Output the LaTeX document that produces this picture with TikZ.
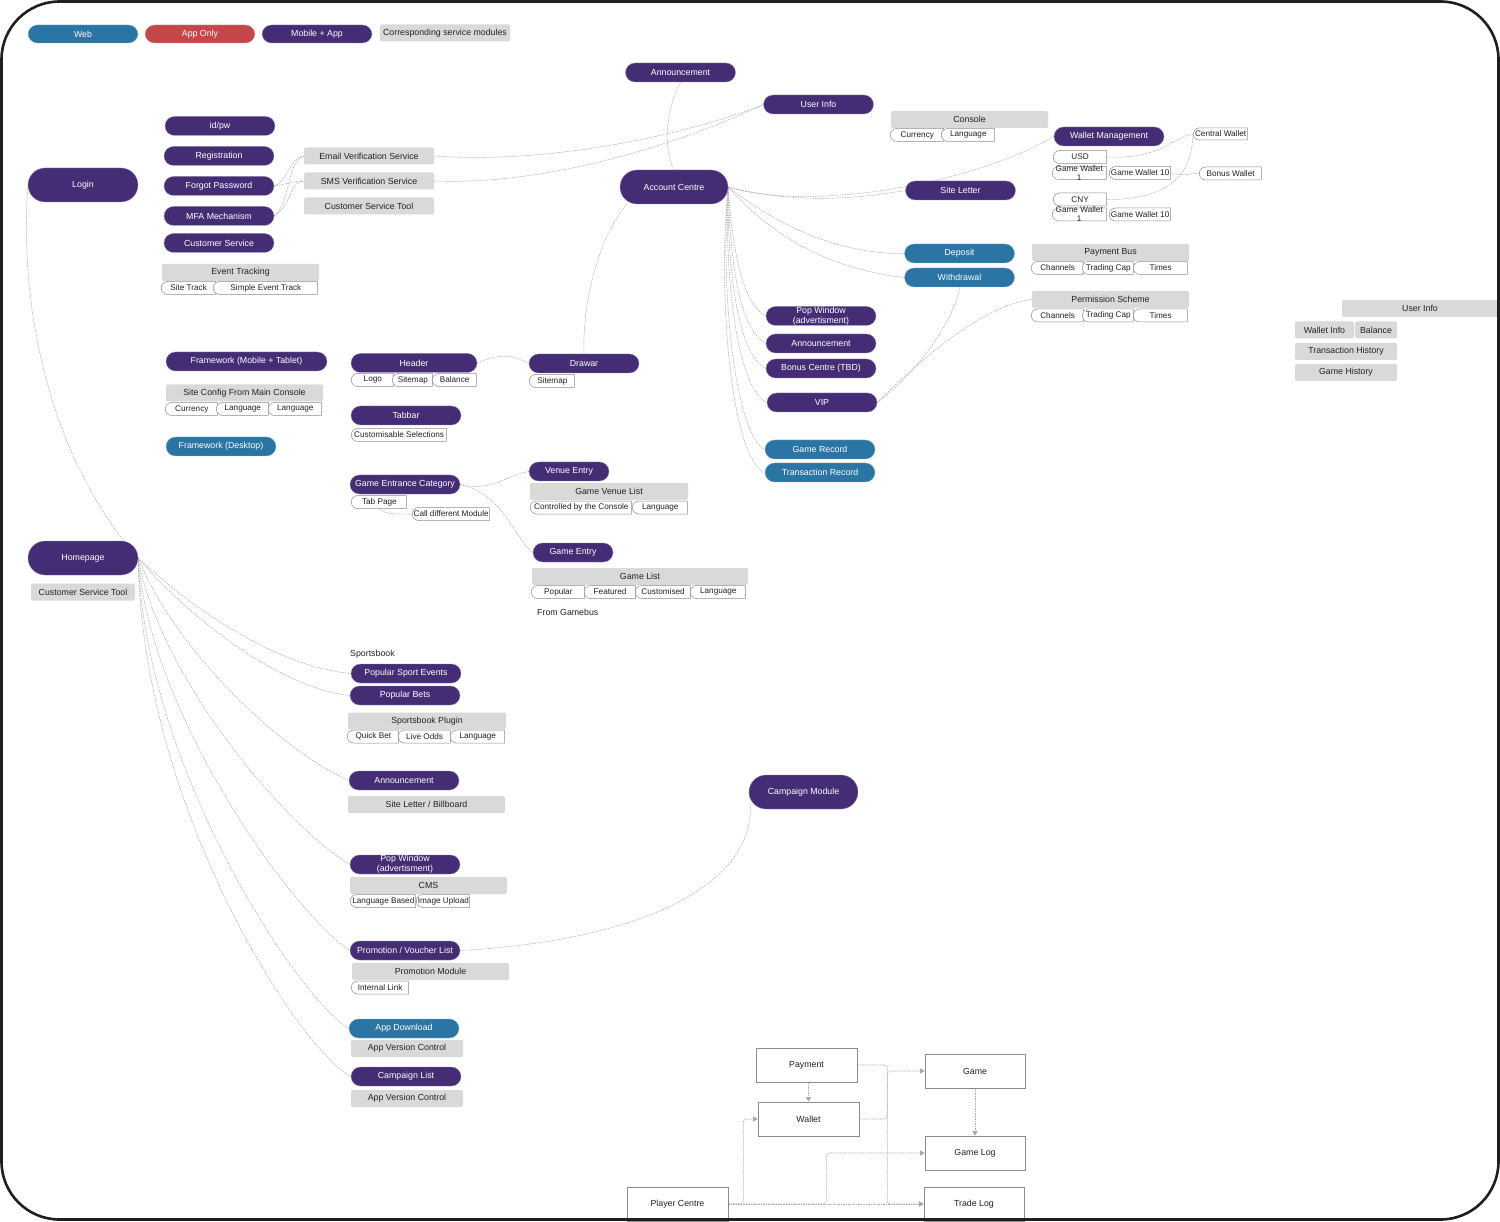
\documentclass[tikz,border=0pt]{standalone}
\usepackage{fontspec}
\setmainfont{Liberation Sans}
\usetikzlibrary{shapes.misc,arrows.meta,backgrounds}
\definecolor{pur}{HTML}{442D74}
\definecolor{blu}{HTML}{2A75A3}
\definecolor{redc}{HTML}{C4474B}
\definecolor{lgr}{HTML}{D9D9D9}
\definecolor{cgr}{HTML}{A8A8A8}
\definecolor{chipb}{HTML}{8C8C8C}
\definecolor{txt}{HTML}{222222}
\newcommand\pillfnt{\fontsize{8.8}{9.6}\selectfont}
\newcommand\boxfnt{\fontsize{8.8}{10}\selectfont}
\newcommand\chipfnt{\fontsize{8.2}{9}\selectfont}
\tikzset{
  pill/.style={rectangle, rounded corners=9.5pt, fill=pur, draw=pur!55!white, line width=0.3pt, text=white, minimum width=110pt, minimum height=19pt, inner sep=0pt, font=\pillfnt},
  bpill/.style={pill, fill=blu, draw=blu!55!white},
  rpill/.style={pill, fill=redc, draw=redc!55!white},
  bigpill/.style={pill, rounded corners=17pt, minimum height=34pt},
  gbox/.style={rectangle, rounded corners=2pt, fill=lgr, text=txt, minimum height=17pt, inner sep=0pt, font=\boxfnt},
  chip/.style={rounded rectangle, rounded rectangle right arc=none, draw=chipb, line width=0.5pt, fill=white, text=txt, minimum height=13pt, inner xsep=1pt, inner ysep=0pt, font=\chipfnt, anchor=west},
  plaintext/.style={anchor=west, inner sep=0pt, font=\boxfnt, text=txt},
  conn/.style={draw=cgr, line width=0.5pt, dash pattern=on 1.5pt off 1pt},
  flowbox/.style={rectangle, draw=black!45, line width=0.6pt, fill=white, minimum width=101pt, minimum height=34pt, font=\boxfnt, text=txt},
  flowline/.style={draw=cgr, line width=0.6pt, dash pattern=on 1.5pt off 1pt, rounded corners=3pt, -{Triangle[length=4.5pt,width=5pt,fill=cgr]}}
}
\begin{document}
\begin{tikzpicture}[x=1pt,y=-1pt]
\useasboundingbox (0,0) rectangle (1500,1222);

% legend
\node[bpill, minimum height=18pt] (lgweb) at (83,34) {Web};
\node[rpill, minimum height=18pt] (lgapp) at (200,34) {App Only};
\node[pill, minimum height=18pt] (lgmob) at (317,34) {Mobile + App};
\node[gbox, minimum width=130pt] (lgsvc) at (445,33) {Corresponding service modules};

% login branch
\node[bigpill] (login) at (83,185) {Login};
\node[pill] (idpw) at (220,126) {id/pw};
\node[pill] (reg) at (219,156) {Registration};
\node[pill] (fpw) at (219,186) {Forgot Password};
\node[pill] (mfa) at (219,216) {MFA Mechanism};
\node[pill] (csv) at (219,243) {Customer Service};
\node[gbox, minimum width=157pt] (evt) at (240.5,272.5) {Event Tracking};
\node[chip, minimum width=56pt] (sitetr) at (161,288) {Site Track};
\node[chip, minimum width=106pt] (simpev) at (213,288) {Simple Event Track};
\node[gbox, minimum width=130pt] (email) at (369,156) {Email Verification Service};
\node[gbox, minimum width=130pt] (sms) at (369,181) {SMS Verification Service};
\node[gbox, minimum width=130pt] (cst1) at (369,206) {Customer Service Tool};

% framework
\node[pill, minimum width=161pt] (fwm) at (246.5,361.5) {Framework (Mobile + Tablet)};
\node[gbox, minimum width=157pt] (scfg) at (244.5,393) {Site Config From Main Console};
\node[chip, minimum width=54pt] (sccur) at (165,409) {Currency};
\node[chip, minimum width=54pt] (sclan1) at (216,409) {Language};
\node[chip, minimum width=55pt] (sclan2) at (268,409) {Language};
\node[bpill] (fwd) at (221,446.5) {Framework (Desktop)};

\node[pill, minimum width=126pt] (hdr) at (414,363) {Header};
\node[chip, minimum width=44pt] (hlogo) at (351,380) {Logo};
\node[chip, minimum width=42pt] (hsite) at (392,380) {Sitemap};
\node[chip, minimum width=46pt] (hbal) at (432,380) {Balance};
\node[pill] (tab) at (406,415.5) {Tabbar};
\node[chip, minimum width=97pt] (tsel) at (351,435) {Customisable Selections};
\node[pill] (drw) at (584,363.5) {Drawar};
\node[chip, minimum width=47pt] (dsite) at (529,381) {Sitemap};

% game entrance
\node[pill] (gec) at (405,484.5) {Game Entrance Category};
\node[chip, minimum width=57pt] (tabpg) at (351,502) {Tab Page};
\node[chip, minimum width=79pt] (calldm) at (412,514) {Call different Module};
\node[pill, minimum width=80pt] (venue) at (569,471.5) {Venue Entry};
\node[gbox, minimum width=158pt] (gvl) at (609,491.5) {Game Venue List};
\node[chip, minimum width=103pt] (gvlc) at (530,507.5) {Controlled by the Console};
\node[chip, minimum width=57pt] (gvll) at (632,507.5) {Language};
\node[pill, minimum width=80pt] (gentry) at (573,552.5) {Game Entry};
\node[gbox, minimum width=216pt] (glist) at (640,576.5) {Game List};
\node[chip, minimum width=55pt] (glpop) at (531,592) {Popular};
\node[chip, minimum width=53pt] (glfea) at (584,592) {Featured};
\node[chip, minimum width=57pt] (glcus) at (635,592) {Customised};
\node[chip, minimum width=57pt] (gllan) at (690,592) {Language};
\node[plaintext] (fgb) at (537,612) {From Gamebus};

% account centre
\node[pill] (ann1) at (680.5,72.5) {Announcement};
\node[pill] (uinfo) at (818.5,104.5) {User Info};
\node[bigpill, minimum width=108pt] (acc) at (674,187) {Account Centre};
\node[gbox, minimum width=157pt] (cons) at (969.5,119.5) {Console};
\node[chip, minimum width=55pt] (concur) at (890,135) {Currency};
\node[chip, minimum width=55pt] (conlan) at (941,135) {Language};
\node[pill] (wm) at (1109,136.5) {Wallet Management};
\node[chip, minimum width=56pt, minimum height=12pt] (cw) at (1193,134) {Central Wallet};
\node[chip, minimum width=55pt] (usd) at (1053,157) {USD};
\node[chip, minimum width=56pt] (gwa) at (1052,173) {};
\node[font=\chipfnt, text=txt, align=center, inner sep=0pt] (gwat) at (gwa.center) {Game Wallet\\1};
\node[chip, minimum width=63pt] (gwta) at (1109,173) {Game Wallet 10};
\node[chip, minimum width=64pt] (bw) at (1199,173.5) {Bonus Wallet};
\node[chip, minimum width=55pt] (cny) at (1053,199.5) {CNY};
\node[chip, minimum width=56pt] (gwb) at (1052,214.5) {};
\node[font=\chipfnt, text=txt, align=center, inner sep=0pt] (gwbt) at (gwb.center) {Game Wallet\\1};
\node[chip, minimum width=63pt] (gwtb) at (1109,214.5) {Game Wallet 10};
\node[pill] (slet) at (960.5,190.5) {Site Letter};
\node[bpill] (dep) at (959.5,253.5) {Deposit};
\node[bpill] (wdr) at (959.5,277.5) {Withdrawal};
\node[gbox, minimum width=157pt] (pbus) at (1110.5,252.5) {Payment Bus};
\node[chip, minimum width=54pt] (pbch) at (1031,268) {Channels};
\node[chip, minimum width=53pt] (pbtc) at (1082,268) {Trading Cap};
\node[chip, minimum width=56pt] (pbti) at (1133,268) {Times};
\node[gbox, minimum width=157pt] (perm) at (1110.5,299.5) {Permission Scheme};
\node[chip, minimum width=54pt] (psch) at (1031,315.5) {Channels};
\node[chip, minimum width=53pt] (pstc) at (1082,315.5) {Trading Cap};
\node[chip, minimum width=56pt] (psti) at (1133,315.5) {Times};
\node[pill, align=center] (popw1) at (821,316) {Pop Window\\(advertisment)};
\node[pill] (ann2) at (821,343.5) {Announcement};
\node[pill] (bonus) at (821,368.5) {Bonus Centre (TBD)};
\node[pill] (vip) at (822,402.5) {VIP};
\node[bpill] (grec) at (820,449.5) {Game Record};
\node[bpill] (trec) at (820,472.5) {Transaction Record};

% right side user info
\node[gbox, minimum width=156pt] (uinfo2) at (1420,308.5) {User Info};
\node[gbox, minimum width=59pt] (winfo) at (1324.5,330) {Wallet Info};
\node[gbox, minimum width=42pt] (bal) at (1376,330) {Balance};
\node[gbox, minimum width=102pt] (thist) at (1346,351.5) {Transaction History};
\node[gbox, minimum width=102pt] (ghist) at (1346,372.5) {Game History};

% homepage
\node[bigpill] (home) at (83,558) {Homepage};
\node[gbox, minimum width=104pt] (cst2) at (83,592) {Customer Service Tool};
\node[plaintext] (sbk) at (350,654.5) {Sportsbook};
\node[pill] (pse) at (406,673.5) {Popular Sport Events};
\node[pill] (pbets) at (405,695.5) {Popular Bets};
\node[gbox, minimum width=158pt] (sbp) at (427,721) {Sportsbook Plugin};
\node[chip, minimum width=53pt] (sbqb) at (347,736.5) {Quick Bet};
\node[chip, minimum width=54pt] (sblo) at (398,736.5) {Live Odds};
\node[chip, minimum width=56pt] (sbla) at (450,736.5) {Language};
\node[pill] (ann3) at (404,780.5) {Announcement};
\node[gbox, minimum width=157pt] (slb) at (426.5,804.5) {Site Letter / Billboard};
\node[pill, align=center] (popw2) at (405,864.5) {Pop Window\\(advertisment)};
\node[gbox, minimum width=157pt] (cms) at (428.5,885.5) {CMS};
\node[chip, minimum width=67pt] (cmslb) at (350,901) {Language Based};
\node[chip, minimum width=55pt] (cmsiu) at (416,901) {Image Upload};
\node[pill] (promo) at (405,950.5) {Promotion / Voucher List};
\node[gbox, minimum width=157pt] (pmod) at (430.5,971.5) {Promotion Module};
\node[chip, minimum width=59pt] (ilink) at (351,987.5) {Internal Link};
\node[bpill] (appdl) at (404,1028.5) {App Download};
\node[gbox, minimum width=112pt] (avca) at (407,1048.5) {App Version Control};
\node[pill] (camp) at (406,1076.5) {Campaign List};
\node[gbox, minimum width=112pt] (avcb) at (407,1098.5) {App Version Control};
\node[bigpill, minimum width=109pt] (cmod) at (803.5,792) {Campaign Module};

% flowchart
\node[flowbox] (pay) at (806.5,1065) {Payment};
\node[flowbox] (wal) at (808.5,1119) {Wallet};
\node[flowbox, minimum width=100pt] (gam) at (975,1071) {Game};
\node[flowbox, minimum width=100pt] (glog) at (975,1153) {Game Log};
\node[flowbox, minimum width=100pt] (tlog) at (974,1204) {Trade Log};
\node[flowbox] (pc) at (677.5,1204) {Player Centre};

\begin{pgfonlayer}{background}
\fill[white] (0,0) rectangle (1500,1222);
% login / homepage
\draw[conn] (login.west) .. controls (18,330) and (60,470) .. (home.east);
\draw[conn] (fpw.east) .. controls (290,180) and (288,158) .. (email.west);
\draw[conn] (fpw.east) .. controls (290,184) and (290,181) .. (sms.west);
\draw[conn] (mfa.east) .. controls (292,200) and (285,165) .. (email.west);
\draw[conn] (mfa.east) .. controls (292,205) and (288,183) .. (sms.west);
\draw[conn] (email.east) .. controls (560,165) and (700,130) .. (uinfo.west);
\draw[conn] (sms.east) .. controls (560,186) and (700,135) .. (uinfo.west);
% account centre
\draw[conn] (ann1.south) .. controls (664,115) and (664,150) .. (acc.north);
\draw[conn] (acc.200) .. controls (600,235) and (582,300) .. (drw.north);
\draw[conn] (acc.east) .. controls (800,205) and (860,198) .. (slet.west);
\draw[conn] (acc.east) .. controls (800,210) and (960,190) .. (wm.west);
\draw[conn] (acc.east) .. controls (790,235) and (850,254) .. (dep.west);
\draw[conn] (acc.east) .. controls (780,245) and (840,270) .. (wdr.west);
\draw[conn] (acc.east) .. controls (733,260) and (745,305) .. (popw1.west);
\draw[conn] (acc.east) .. controls (730,265) and (740,330) .. (ann2.west);
\draw[conn] (acc.east) .. controls (727,270) and (738,355) .. (bonus.west);
\draw[conn] (acc.east) .. controls (724,280) and (738,390) .. (vip.west);
\draw[conn] (acc.east) .. controls (720,290) and (735,435) .. (grec.west);
\draw[conn] (acc.east) .. controls (717,300) and (732,460) .. (trec.west);
\draw[conn] (vip.east) .. controls (915,375) and (955,320) .. (wdr.south);
\draw[conn] (vip.east) .. controls (925,355) and (985,305) .. (perm.west);
\draw[conn] (usd.east) .. controls (1160,160) and (1175,136) .. (cw.west);
\draw[conn] (cny.east) .. controls (1180,200) and (1192,165) .. (cw.west);
\draw[conn] (gwta.east) .. controls (1185,177) and (1190,173) .. (bw.west);
% framework / game
\draw[conn] (hdr.east) .. controls (497,354) and (512,354) .. (drw.west);
\draw[conn] (gec.east) .. controls (495,492) and (505,475) .. (venue.west);
\draw[conn] (gec.east) .. controls (505,495) and (515,540) .. (gentry.west);
\draw[conn] (tabpg.south) .. controls (385,515) and (400,514) .. (calldm.west);
% homepage fan
\draw[conn] (home.east) .. controls (210,625) and (290,668) .. (pse.west);
\draw[conn] (home.east) .. controls (200,630) and (290,690) .. (pbets.west);
\draw[conn] (home.east) .. controls (175,650) and (280,750) .. (ann3.west);
\draw[conn] (home.east) .. controls (160,680) and (290,830) .. (popw2.west);
\draw[conn] (home.east) .. controls (150,720) and (300,920) .. (promo.west);
\draw[conn] (home.east) .. controls (145,770) and (300,1000) .. (appdl.west);
\draw[conn] (home.east) .. controls (142,810) and (300,1050) .. (camp.west);
\draw[conn] (promo.east) .. controls (650,940) and (765,880) .. (cmod.west);
% flowchart
\draw[flowline] (pay.south -| wal.north) -- (wal.north);
\draw[flowline] (gam.south) -- (glog.north);
\draw[flowline] (pay.east) -- ++(30,0) |- (tlog.west);
\draw[flowline] (wal.east) -- ++(28,0) |- (gam.west);
\draw[flowline] (pc.east) -- ++(15,0) |- (wal.west);
\draw[flowline] (pc.east) -- ++(98,0) |- (glog.west);
\draw[flowline] (pc.east) -- (tlog.west);
\end{pgfonlayer}

% frame
\draw[line width=2.6pt, draw=black!88, rounded corners=58pt] (1.5,1.5) rectangle (1498.5,1219.5);
\end{tikzpicture}
\end{document}
